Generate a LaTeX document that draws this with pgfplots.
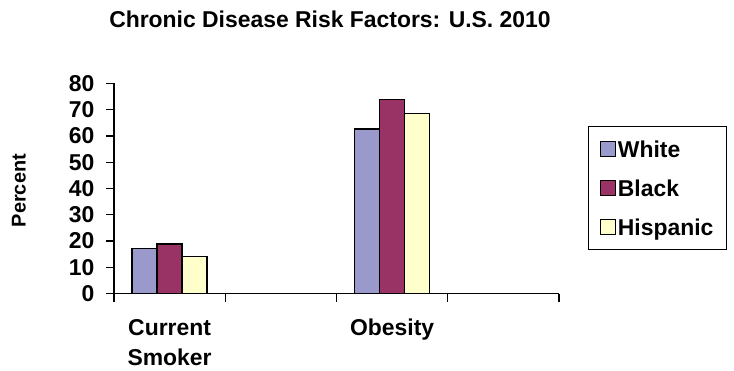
\documentclass[border=0pt]{standalone}
\usepackage{fontspec}
\setmainfont{Liberation Sans}
\usepackage{pgfplots}
\pgfplotsset{compat=1.18}
\definecolor{cW}{HTML}{9999CC}
\definecolor{cB}{HTML}{993366}
\definecolor{cH}{HTML}{FFFFCC}
\begin{document}
\begin{tikzpicture}
\useasboundingbox (0,0) rectangle (734bp,371bp);
\node[font=\fontsize{23}{27}\selectfont\bfseries, anchor=base] at (330bp,343bp) {Chronic Disease Risk Factors: U.S. 2010};
\begin{axis}[
  at={(114bp,77.3bp)}, anchor=south west,
  scale only axis, width=445bp, height=210.4bp,
  xmin=-0.5, xmax=3.5, ymin=0, ymax=80,
  axis lines*=left,
  axis line style={line width=1.3bp, black},
  ybar=0pt, bar width=25bp,
  ytick={0,10,...,80},
  xtick={-0.5,0.5,1.5,2.5,3.5}, xticklabels={,,,,,},
  extra x ticks={0,2}, extra x tick labels={{Current\\Smoker},{Obesity}},
  extra x tick style={major tick length=0pt},
  tick align=outside, major tick length=8bp,
  tick style={line width=1.3bp, black},
  /pgf/number format/assume math mode=true,
  yticklabel style={font=\fontsize{23}{27}\selectfont\bfseries, xshift=-8bp},
  xticklabel style={font=\fontsize{23}{30}\selectfont\bfseries, align=center, yshift=-22bp},
  ylabel={Percent},
  ylabel style={at={(axis description cs:-0.2135,0.49)}, anchor=center, font=\fontsize{20}{24}\selectfont\bfseries},
  legend style={at={(axis description cs:1.065,0.797)}, anchor=north west, draw=black, line width=1.3bp, font=\fontsize{23}{27}\selectfont\bfseries, legend cell align=left, row sep=18.5bp, inner xsep=11bp, inner ysep=12bp, nodes={text depth=0pt}},
  legend image code/.code={\draw[#1, line width=1.3bp, draw=black] (0bp,-7.5bp) rectangle (15bp,7.5bp);},
]
\addplot[fill=cW, draw=black, line width=1.3bp] coordinates {(0,17.3) (2,62.6)};
\addplot[fill=cB, draw=black, line width=1.3bp] coordinates {(0,18.9) (2,73.9)};
\addplot[fill=cH, draw=black, line width=1.3bp] coordinates {(0,14.1) (2,68.6)};
\legend{White,Black,Hispanic}
\end{axis}
\end{tikzpicture}
\end{document}
